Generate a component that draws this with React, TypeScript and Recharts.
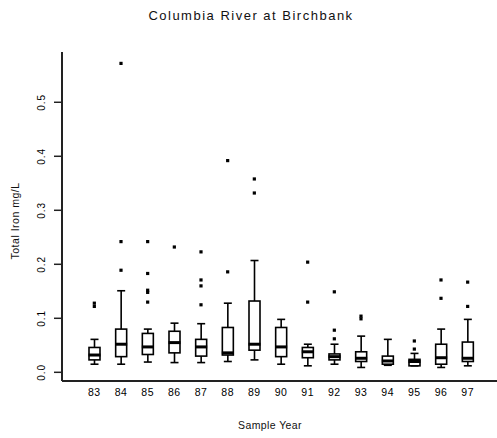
import React from 'react';
import { ComposedChart, Bar, Scatter, XAxis, YAxis } from 'recharts';

const years = ['83', '84', '85', '86', '87', '88', '89', '90', '91', '92', '93', '94', '95', '96', '97'];
const whiskerLow = [0.015, 0.015, 0.019, 0.018, 0.018, 0.020, 0.023, 0.015, 0.012, 0.015, 0.009, 0.013, 0.012, 0.009, 0.012];
const quart1 = [0.023, 0.029, 0.033, 0.036, 0.030, 0.032, 0.041, 0.029, 0.027, 0.023, 0.020, 0.015, 0.012, 0.015, 0.020];
const medians = [0.032, 0.052, 0.047, 0.055, 0.047, 0.036, 0.052, 0.047, 0.038, 0.029, 0.026, 0.021, 0.020, 0.027, 0.026];
const quart3 = [0.046, 0.080, 0.072, 0.076, 0.061, 0.083, 0.132, 0.083, 0.046, 0.034, 0.038, 0.030, 0.024, 0.052, 0.056];
const whiskerHigh = [0.061, 0.151, 0.080, 0.091, 0.090, 0.128, 0.207, 0.098, 0.052, 0.052, 0.067, 0.061, 0.035, 0.080, 0.098];
const outliers: number[][] = [
  [0.128, 0.122],
  [0.572, 0.242, 0.189],
  [0.242, 0.183, 0.152, 0.148, 0.130],
  [0.232],
  [0.223, 0.171, 0.160, 0.125],
  [0.392, 0.186],
  [0.358, 0.332],
  [],
  [0.204, 0.130],
  [0.149, 0.078, 0.062],
  [0.104, 0.099],
  [],
  [0.058, 0.043],
  [0.171, 0.137],
  [0.167, 0.122],
];
const yTicks = [0, 0.1, 0.2, 0.3, 0.4, 0.5];
const yTickLabels = ['0.0', '0.1', '0.2', '0.3', '0.4', '0.5'];

const MAX_OUT = 5;
const outKeys = Array.from({ length: MAX_OUT }, (_, k) => 'o' + k);

const data = years.map((year, i) => {
  const row: any = {
    year,
    lo: whiskerLow[i],
    q1: quart1[i],
    med: medians[i],
    q3: quart3[i],
    hi: whiskerHigh[i],
    range: [whiskerLow[i], whiskerHigh[i]],
  };
  outKeys.forEach((k, j) => {
    row[k] = outliers[i][j] ?? null;
  });
  return row;
});

const FONT = '"Liberation Sans", Arial, sans-serif';
const INK = '#000';

const BoxShape = (props: any) => {
  const { x, y, width, height, payload } = props;
  if (x == null || y == null || !payload) return null;
  const top = Math.min(y, y + height);
  const bot = Math.max(y, y + height);
  const span = payload.hi - payload.lo;
  const py = (v: number) => (span === 0 ? top : bot - ((v - payload.lo) / span) * (bot - top));
  const cx = x + width / 2;
  const capW = 8;
  const yHi = py(payload.hi);
  const yQ3 = py(payload.q3);
  const yQ1 = py(payload.q1);
  const yLo = py(payload.lo);
  const yMed = py(payload.med);
  return (
    <g>
      <line x1={cx} x2={cx} y1={yHi} y2={yQ3} stroke={INK} strokeWidth={1.6} />
      <line x1={cx} x2={cx} y1={yQ1} y2={yLo} stroke={INK} strokeWidth={1.6} />
      <line x1={cx - capW / 2} x2={cx + capW / 2} y1={yHi} y2={yHi} stroke={INK} strokeWidth={1.6} />
      <line x1={cx - capW / 2} x2={cx + capW / 2} y1={yLo} y2={yLo} stroke={INK} strokeWidth={1.6} />
      <rect x={x} y={yQ3} width={width} height={Math.max(yQ1 - yQ3, 0.5)} fill="#fff" stroke={INK} strokeWidth={1.6} />
      <line x1={x - 0.5} x2={x + width + 0.5} y1={yMed} y2={yMed} stroke={INK} strokeWidth={3} />
    </g>
  );
};

const OutlierShape = (props: any) => {
  const { cx, cy } = props;
  if (cx == null || cy == null || !Number.isFinite(cx) || !Number.isFinite(cy)) return null;
  return <rect x={cx - 1.6} y={cy - 1.6} width={3.2} height={3.2} fill={INK} />;
};

const YTick = (props: any) => {
  const { x, y, payload } = props;
  const idx = yTicks.indexOf(payload.value);
  const label = idx >= 0 ? yTickLabels[idx] : String(payload.value);
  return (
    <text
      x={x}
      y={y}
      transform={`rotate(-90, ${x}, ${y})`}
      textAnchor="middle"
      fontFamily={FONT}
      fontSize={10}
      letterSpacing={1}
      fill={INK}
    >
      {label}
    </text>
  );
};

const XTick = (props: any) => {
  const { x, y, payload } = props;
  return (
    <text x={x} y={y} dy="0.71em" textAnchor="middle" fontFamily={FONT} fontSize={10.5} letterSpacing={0.5} fill={INK}>
      {payload.value}
    </text>
  );
};

export default function App() {
  return (
    <div style={{ position: 'absolute', left: 0, top: 0, width: 497, height: 438, overflow: 'hidden', background: '#fff' }}>
      <svg width={497} height={40} style={{ position: 'absolute', left: 0, top: 0 }}>
        <text x={251} y={20} textAnchor="middle" fontFamily={FONT} fontSize={13} letterSpacing={1.5} fill="#111">
          Columbia River at Birchbank
        </text>
      </svg>
      <div style={{ position: 'absolute', left: 0, top: 0 }}>
        <ComposedChart
          width={497}
          height={438}
          data={data}
          margin={{ top: 52, right: 0, left: 12, bottom: 27 }}
          barCategoryGap={0}
        >
          <XAxis
            xAxisId="top"
            orientation="top"
            dataKey="year"
            height={0}
            tick={false}
            tickLine={false}
            axisLine={{ stroke: '#222', strokeWidth: 2 }}
            padding={{ left: 19, right: 16 }}
          />
          <XAxis
            dataKey="year"
            type="category"
            allowDuplicatedCategory={false}
            height={30}
            padding={{ left: 19, right: 16 }}
            tickLine={false}
            tickSize={5}
            tickMargin={3}
            tick={<XTick />}
            interval={0}
            axisLine={{ stroke: '#222', strokeWidth: 2 }}
            label={{
              content: (p: any) => {
                const vb = p.viewBox || { x: 62, y: 381, width: 435 };
                return (
                  <text
                    x={270}
                    y={vb.y + 48}
                    textAnchor="middle"
                    fontFamily={FONT}
                    fontSize={10.5}
                    letterSpacing={0.4}
                    fill="#111"
                  >
                    Sample Year
                  </text>
                );
              },
            }}
          />
          <YAxis
            type="number"
            width={50}
            domain={[-0.0161, 0.5931]}
            allowDataOverflow
            ticks={yTicks}
            tickSize={8}
            tickMargin={9}
            tick={<YTick />}
            tickLine={{ stroke: '#222', strokeWidth: 1.5 }}
            axisLine={{ stroke: '#222', strokeWidth: 2 }}
            label={{
              content: () => {
                const bx = 19;
                const by = 221;
                return (
                  <text
                    x={bx}
                    y={by}
                    transform={`rotate(-90, ${bx}, ${by})`}
                    textAnchor="middle"
                    fontFamily={FONT}
                    fontSize={10.5}
                    letterSpacing={0.5}
                    fill="#111"
                  >
                    Total Iron mg/L
                  </text>
                );
              },
            }}
          />
          <Bar dataKey="range" barSize={11} shape={<BoxShape />} isAnimationActive={false} />
          {outKeys.map((k) => (
            <Scatter key={k} dataKey={k} shape={<OutlierShape />} isAnimationActive={false} />
          ))}
        </ComposedChart>
      </div>
    </div>
  );
}
